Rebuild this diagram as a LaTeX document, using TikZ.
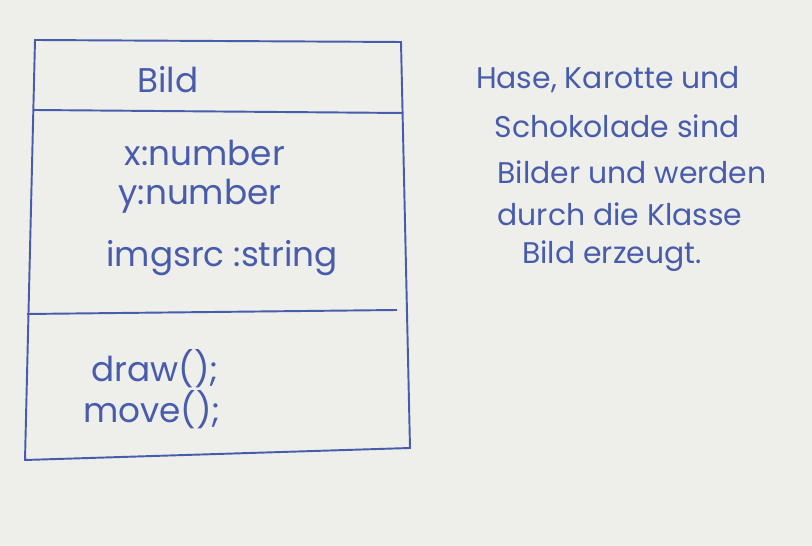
\documentclass[tikz,border=0pt]{standalone}
\usepackage{fontspec}
\setmainfont{Poppins}
\usepackage{xcolor}
\usepackage{tikz}
\usetikzlibrary{positioning}

\definecolor{ink}{RGB}{72,92,172}
\definecolor{paper}{RGB}{238,238,235}

\begin{document}
\begin{tikzpicture}[
    x=0.02cm, y=-0.02cm,
    pen/.style={draw=ink, line width=1.1pt},
    member/.style={text=ink, font=\fontsize{19.5}{22}\selectfont, inner sep=0pt},
    note/.style={text=ink, font=\fontsize{17}{20}\selectfont, inner sep=0pt}
]
    % Paper
    \fill[paper] (0,0) rectangle (812,546);
    \useasboundingbox (0,0) rectangle (812,546);

    % Class box
    \coordinate (tl) at (35,40);
    \coordinate (tr) at (401,42);
    \coordinate (br) at (410,448);
    \coordinate (bl) at (25,460);
    \draw[pen] (tl) -- (tr) -- (br) -- (bl) -- cycle;
    \draw[pen] (34,110) -- (403,113);
    \draw[pen] (27,314) -- (397,310);

    % Name
    \node[member] (name) at (168,80) {Bild};

    % Attributes
    \node[member] (attrx) at (205,153) {x:number};
    \node[member] (attry) at (200,196) {y:number};
    \node[member] (attrimg) at (222,258) {imgsrc :string};

    % Methods
    \node[member] (mdraw) at (155,369) {draw();};
    \node[member] (mmove) at (152,410) {move();};

    % Note
    \node[note] (line1) at (608,80) {Hase, Karotte und};
    \node[note] (line2) at (617,126) {Schokolade sind};
    \node[note] (line3) at (632,172) {Bilder und werden};
    \node[note] (line4) at (620,214) {durch die Klasse};
    \node[note] (line5) at (612,256) {Bild erzeugt.};
\end{tikzpicture}
\end{document}
